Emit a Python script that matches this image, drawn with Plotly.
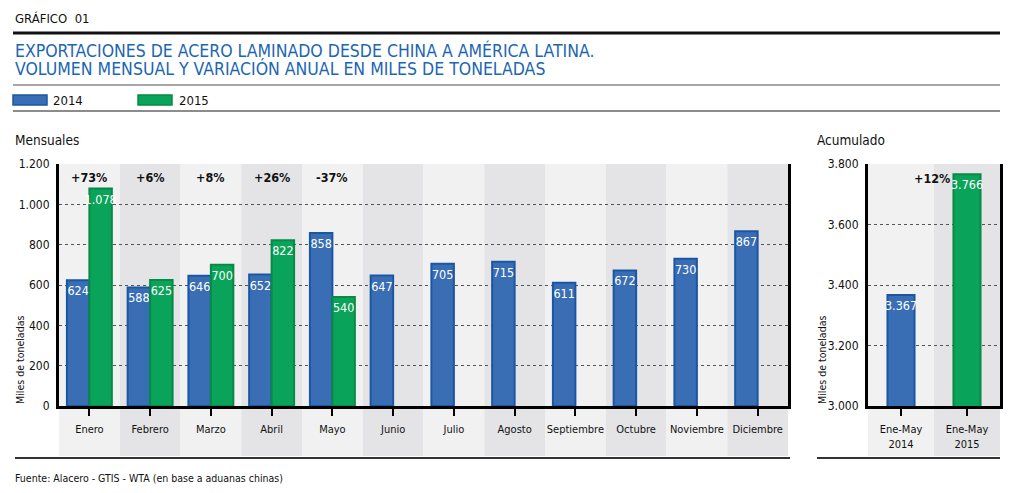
import plotly.graph_objects as go

# ---------------- data ----------------
months = ["Enero", "Febrero", "Marzo", "Abril", "Mayo", "Junio", "Julio",
          "Agosto", "Septiembre", "Octubre", "Noviembre", "Diciembre"]
vals_2014 = [624, 588, 646, 652, 858, 647, 705, 715, 611, 672, 730, 867]
vals_2015 = [1078, 625, 700, 822, 540, None, None, None, None, None, None, None]
var_labels = ["+73%", "+6%", "+8%", "+26%", "-37%"]

acum_cats = ["Ene-May<br>2014", "Ene-May<br>2015"]
acum_vals = [3367, 3766]
acum_var = "+12%"

# ---------------- style ----------------
W, H = 1012, 493
FONT = "'DejaVu Sans Condensed', 'Liberation Sans Narrow', 'Roboto Condensed', 'Arial Narrow', Roboto, sans-serif"
BLUE, BLUE_E = "#3a6eb4", "#1b56a3"
GREEN, GREEN_E = "#0aa35a", "#078a45"
BAND_L, BAND_D = "#f1f1f2", "#e4e4e6"
TITLE_BLUE = "#1c66b2"


def px(x):
    return x / W


def py(y):
    return 1 - y / H


L_X0, L_X1 = 59, 788
R_X0, R_X1 = 868, 1000
Y_TOP, Y_BOT = 164, 406
BAND_BOT = 456

fig = go.Figure()

bar_text = dict(texttemplate="%{y:,}", textposition="inside", insidetextanchor="end",
                textangle=0, constraintext="none",
                textfont=dict(family=FONT, size=12.5, color="white"))

fig.add_trace(go.Bar(
    x=months, y=vals_2014, name="2014",
    marker=dict(color=BLUE, line=dict(color=BLUE_E, width=2)),
    xaxis="x", yaxis="y", showlegend=False, **bar_text,
))
fig.add_trace(go.Bar(
    x=months, y=vals_2015, name="2015",
    marker=dict(color=GREEN, line=dict(color=GREEN_E, width=2)),
    xaxis="x", yaxis="y", showlegend=False, **bar_text,
))
fig.add_trace(go.Bar(
    x=acum_cats, y=acum_vals, width=0.41,
    marker=dict(color=[BLUE, GREEN], line=dict(color=[BLUE_E, GREEN_E], width=2)),
    xaxis="x2", yaxis="y2", showlegend=False, **bar_text,
))

shapes = []
# background bands
for i in range(len(months)):
    shapes.append(dict(type="rect", xref="x", yref="paper", x0=i - 0.5, x1=i + 0.5,
                       y0=py(BAND_BOT), y1=py(Y_TOP), fillcolor=BAND_L if i % 2 == 0 else BAND_D,
                       line=dict(width=0), layer="below"))
for i in range(len(acum_cats)):
    shapes.append(dict(type="rect", xref="x2", yref="paper", x0=i - 0.5, x1=i + 0.5,
                       y0=py(BAND_BOT), y1=py(Y_TOP), fillcolor=BAND_L if i % 2 == 0 else BAND_D,
                       line=dict(width=0), layer="below"))


def hline(x0, x1, y, color, width):
    shapes.append(dict(type="line", xref="paper", yref="paper", x0=px(x0), x1=px(x1),
                       y0=py(y), y1=py(y), line=dict(color=color, width=width)))


hline(13, 1000, 33, "#111111", 3)
hline(13, 1000, 85, "#8a8a8a", 1.5)
hline(13, 1000, 111, "#666666", 1.5)
hline(15, 790, 458, "#333333", 2)
hline(817, 1000, 458, "#333333", 2)

# legend rectangles
shapes.append(dict(type="rect", xref="paper", yref="paper", x0=px(13), x1=px(47),
                   y0=py(105), y1=py(95), fillcolor=BLUE, line=dict(color=BLUE_E, width=1.5)))
shapes.append(dict(type="rect", xref="paper", yref="paper", x0=px(138), x1=px(172),
                   y0=py(105), y1=py(95), fillcolor=GREEN, line=dict(color=GREEN_E, width=1.5)))

annotations = []


def text(x, y, s, size, color="#111111", xanchor="left", bold=False):
    annotations.append(dict(xref="paper", yref="paper", x=px(x), y=py(y), text=s,
                            showarrow=False, xanchor=xanchor, yanchor="middle",
                            font=dict(family=FONT, size=size, color=color,
                                      weight="bold" if bold else "normal")))


text(13, 18, "GRÁFICO\u00a0\u00a001", 13)
text(13, 51, "EXPORTACIONES DE ACERO LAMINADO DESDE CHINA A AMÉRICA LATINA.", 17.5, TITLE_BLUE)
text(13, 68, "VOLUMEN MENSUAL Y VARIACIÓN ANUAL EN MILES DE TONELADAS", 17.5, TITLE_BLUE)
text(51, 100, "2014", 13)
text(177, 100, "2015", 13)
text(13, 140, "Mensuales", 13.5)
text(815, 140, "Acumulado", 13.5)
text(13, 478, "Fuente: Alacero - GTIS - WTA (en base a aduanas chinas)", 10.5)

# rotated axis titles
for xx in (20, 822):
    annotations.append(dict(xref="paper", yref="paper", x=px(xx), y=py(Y_BOT), text="Miles de toneladas",
                            textangle=-90, showarrow=False, xanchor="center", yanchor="bottom",
                            font=dict(family=FONT, size=10.5, color="#111111")))

# variation labels
for m, lab in zip(months, var_labels):
    annotations.append(dict(xref="x", yref="y", x=m, y=1200, text=lab, showarrow=False,
                            yanchor="top", yshift=-4,
                            font=dict(family=FONT, size=12.5, color="#111111", weight="bold")))
annotations.append(dict(xref="x2", yref="y2", x=acum_cats[1], y=acum_vals[1], text=acum_var,
                        showarrow=False, xanchor="right", yanchor="middle", xshift=-15, yshift=-4,
                        font=dict(family=FONT, size=12.5, color="#111111", weight="bold")))

axis_common = dict(showline=True, linecolor="black", automargin=False)

fig.update_layout(
    width=W, height=H,
    margin=dict(l=0, r=0, t=0, b=0),
    paper_bgcolor="white", plot_bgcolor="rgba(0,0,0,0)",
    template="none",
    separators=",.",
    barmode="group", bargap=0.26, bargroupgap=0,
    font=dict(family=FONT, size=12, color="#111111"),
    xaxis=dict(domain=[px(L_X0), px(L_X1)], anchor="y", type="category", categoryorder="array",
               categoryarray=months, linewidth=3, ticks="outside", ticklen=7, tickwidth=2,
               tickcolor="black", showgrid=False, tickfont=dict(size=11), ticklabelstandoff=4,
               **axis_common),
    yaxis=dict(domain=[py(Y_BOT), py(Y_TOP)], anchor="x", range=[0, 1200], dtick=200,
               tickformat=",d", showgrid=True, gridcolor="#555555", griddash="dot", gridwidth=1,
               zeroline=False, linewidth=3, mirror=True, ticks="", tickfont=dict(size=12),
               ticklabelstandoff=4, **axis_common),
    xaxis2=dict(domain=[px(R_X0), px(R_X1)], anchor="y2", type="category", categoryorder="array",
                categoryarray=acum_cats, linewidth=3, ticks="outside", ticklen=7, tickwidth=2,
                tickcolor="black", showgrid=False, tickfont=dict(size=11), ticklabelstandoff=4,
                **axis_common),
    yaxis2=dict(domain=[py(Y_BOT), py(Y_TOP)], anchor="x2", range=[3000, 3800], dtick=200,
                tickformat=",d", showgrid=True, gridcolor="#555555", griddash="dot", gridwidth=1,
                zeroline=False, linewidth=3, mirror=True, ticks="", tickfont=dict(size=12),
                ticklabelstandoff=4, **axis_common),
    shapes=shapes,
    annotations=annotations,
)

fig.write_html("out.html", config={"displayModeBar": False},
               post_script="document.body.style.margin='0';document.body.style.overflow='hidden';")
